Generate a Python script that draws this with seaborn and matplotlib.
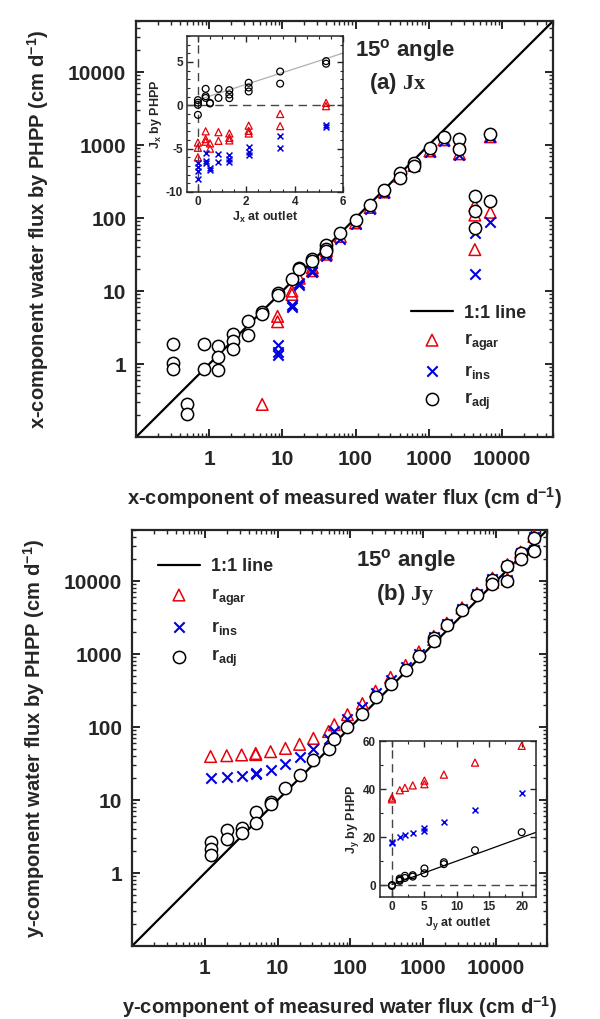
import matplotlib
matplotlib.use("Agg")
import matplotlib.pyplot as plt
import numpy as np
import seaborn as sns
from matplotlib.ticker import FixedLocator, FuncFormatter, LogLocator, MultipleLocator, NullFormatter

# ---- (a) Jx: measured (outlet) flux vs PHPP flux, cm/d ----
JX_ADJ_X = [0, 0, 0, 0, 0.32, 0.32, 0.32, 0.5, 0.5, 0.85, 0.85, 1.3, 1.3, 1.3,
            2.1, 2.1, 2.1, 3.4, 3.4, 5.3, 5.3, 8.6, 8.6, 13.5, 17, 17, 25.7, 25.7,
            40, 40, 40, 62, 100, 158, 246, 400, 400, 630, 630, 1040, 1620,
            2630, 2630, 4270, 4270, 4270, 6950, 6950]
JX_ADJ_Y = [0.6, 0.3, 0.05, -1.1, 1.9, 1.05, 0.85, 0.28, 0.21, 1.9, 0.85, 1.75, 1.25, 0.82,
            2.6, 2.05, 1.6, 3.9, 2.5, 5.1, 4.8, 9.5, 8.9, 14.5, 21, 20, 27.7, 26,
            43, 38, 35, 62, 95, 153, 246, 410, 350, 575, 520, 910, 1300,
            1200, 880, 200, 124, 74, 1410, 170]

JX_AGAR_X = [0, 0, 0, 0.32, 0.32, 0.32, 0.5, 0.5, 0.85, 0.85, 1.3, 1.3, 1.3,
             2.1, 2.1, 2.1, 3.4, 3.4, 5.3, 5.3, 8.6, 8.6, 13.5, 13.5, 17, 25.7, 25.7,
             40, 40, 62, 100, 158, 246, 400, 630, 1040, 1620,
             2630, 2630, 4270, 4270, 4270, 6950, 6950]
JX_AGAR_Y = [-4.3, -4.9, -6.0, -3.0, -3.9, -4.2, -4.4, -5.0, -3.1, -4.1, -3.25, -3.75, -4.05,
             -2.35, -2.95, -3.25, -1.0, -2.4, 0.28, -0.1, 4.5, 3.8, 10, 9, 15, 21, 19,
             36, 32, 56, 86, 140, 228, 375, 525, 830, 1180,
             1100, 760, 150, 110, 37, 1300, 120]

JX_INS_X = [0, 0, 0, 0, 0.32, 0.32, 0.32, 0.5, 0.5, 0.85, 0.85, 1.3, 1.3, 1.3,
            2.1, 2.1, 2.1, 3.4, 3.4, 5.3, 5.3, 8.6, 8.6, 8.6, 13.5, 13.5, 17, 17, 25.7, 25.7,
            40, 40, 62, 100, 158, 246, 400, 630, 1040, 1620,
            2630, 2630, 4270, 4270, 6950, 6950]
JX_INS_Y = [-6.6, -7.1, -7.6, -8.5, -5.5, -6.4, -6.6, -7.2, -7.5, -5.6, -6.5, -5.75, -6.2, -6.55,
            -4.85, -5.4, -5.75, -3.55, -4.9, -2.3, -2.5, 1.8, 1.46, 1.33, 6.5, 6.1, 13, 12, 19, 18,
            33, 30, 52, 82, 135, 220, 360, 510, 800, 1150,
            1050, 740, 62, 17, 1280, 88]

# fitted line in the Jx inset (slope, intercept) and its x span
JX_FIT = (0.9, 0.62)
JX_FIT_SPAN = [0.0, 6.0]

# ---- (b) Jy ----
JY_X = [0, 0, 1.2, 2, 3.2, 5, 5, 8, 12.8, 20, 31, 50, 60, 91, 146, 221, 355, 572, 870,
        1390, 1390, 2100, 3400, 5450, 8900, 8900, 14300, 14300, 21700, 21700, 33000, 33000]
JY_AGAR_Y = [35.7, 36.4, 39.5, 40.5, 41.5, 43.5, 42, 46, 51, 58, 70, 87, 108, 148, 210, 310,
             480, 700, 1070, 1750, 1580, 2650, 4300, 6800, 11000, 9600, 16800, 10600,
             25000, 21000, 41000, 27500]
JY_INS_Y = [17.4, 18, 20.2, 21, 21.5, 23.6, 22.4, 26.2, 31.3, 38.5, 50, 69, 88, 128, 190, 290,
            440, 660, 1010, 1700, 1530, 2550, 4150, 6600, 10700, 9300, 16300, 10300,
            24500, 20500, 40000, 26500]

JY_ADJ_X = [0, 0, 1.2, 1.2, 1.2, 2, 2, 3.2, 3.2, 5, 5, 8, 8, 12.8, 20, 31, 50, 60, 91, 146,
            221, 355, 572, 870, 1390, 1390, 2100, 3400, 5450, 8900, 8900, 14300, 14300,
            21700, 21700, 33000, 33000]
JY_ADJ_Y = [0, -0.4, 2.7, 2.15, 1.75, 3.85, 2.95, 4.1, 3.5, 6.9, 4.9, 9.5, 8.7, 14.5, 22, 35.7,
            50, 69, 100, 153, 260, 390, 605, 940, 1650, 1490, 2470, 4060, 6440, 10500, 9100,
            16000, 10000, 24000, 20000, 39500, 26000]

JY_FIT = (0.98, 0.2)
JY_FIT_SPAN = [0.0, 22.2]

AXIS_RANGE = [0.1, 5e4]
LOG_TICKS = [0.1, 1, 10, 100, 1000, 10000]


def set_plot_style() -> None:
    sns.set_theme(style="ticks")
    plt.rcParams.update({
        "font.family": ["Liberation Sans", "DejaVu Sans"],
        "font.weight": "bold",
        "axes.labelweight": "bold",
        "axes.unicode_minus": False,
        "mathtext.fontset": "custom",
        "mathtext.rm": "Liberation Sans:bold",
        "mathtext.bf": "Liberation Sans:bold",
        "mathtext.it": "Liberation Sans:bold",
        "mathtext.cal": "Liberation Serif:bold",
        "mathtext.default": "bf",
    })


MAIN_STYLE = {
    "agar": dict(marker="^", s=70, facecolor="none", edgecolor="#e8000b", linewidth=1.1),
    "ins": dict(marker="x", s=55, color="#0000e0", linewidth=1.5),
    "adj": dict(marker="o", s=78, facecolor="white", edgecolor="black", linewidth=1.1),
}
INSET_STYLE = {
    "agar": dict(marker="^", s=26, facecolor="none", edgecolor="#e8000b", linewidth=0.9),
    "ins": dict(marker="x", s=18, color="#0000e0", linewidth=1.1),
    "adj": dict(marker="o", s=24, facecolor="none", edgecolor="black", linewidth=0.9),
}
LABELS = {"agar": r"r$_{agar}$", "ins": r"r$_{ins}$", "adj": r"r$_{adj}$"}


def style_main_axes(ax, xlabel, ylabel):
    ax.set_xscale("log")
    ax.set_yscale("log")
    ax.set_xlim(AXIS_RANGE)
    ax.set_ylim(AXIS_RANGE)
    fmt = FuncFormatter(lambda v, p: "" if v < 1 else f"{v:g}")
    for axis in (ax.xaxis, ax.yaxis):
        axis.set_major_locator(FixedLocator(LOG_TICKS))
        axis.set_major_formatter(fmt)
        axis.set_minor_locator(LogLocator(subs=np.arange(2, 10), numticks=20))
        axis.set_minor_formatter(NullFormatter())
    ax.tick_params(which="both", direction="in", top=True, right=True, labelsize=15)
    ax.tick_params(which="major", length=6, width=1.4)
    ax.tick_params(which="minor", length=3, width=1.0)
    ax.tick_params(axis="x", pad=9)
    ax.tick_params(axis="y", pad=7)
    for sp in ax.spines.values():
        sp.set_linewidth(1.6)
    ax.set_xlabel(xlabel, fontsize=14.5, labelpad=12)
    ax.set_ylabel(ylabel, fontsize=14.5, labelpad=12)


def draw_main(ax, series):
    ax.plot(AXIS_RANGE, AXIS_RANGE, color="black", linewidth=1.6, label="1:1 line", zorder=2)
    for key in ("agar", "ins", "adj"):
        x, y = (np.asarray(v, dtype=float) for v in series[key])
        keep = (x > 0) & (y > 0)
        sns.scatterplot(x=x[keep], y=y[keep], ax=ax, label=LABELS[key], zorder=3,
                        **MAIN_STYLE[key])


def draw_inset(ax, series, fit, span, fit_color):
    ax.axhline(0, color="#444444", linewidth=1.0, dashes=(6, 4), zorder=1)
    ax.axvline(0, color="#444444", linewidth=1.0, dashes=(6, 4), zorder=1)
    xs = np.asarray(span)
    ax.plot(xs, fit[0] * xs + fit[1], color=fit_color, linewidth=0.9, zorder=2)
    for key in ("agar", "ins", "adj"):
        x, y = series[key]
        sns.scatterplot(x=x, y=y, ax=ax, zorder=3, **INSET_STYLE[key])
    ax.tick_params(which="both", direction="in", top=True, right=True, labelsize=8.5)
    ax.tick_params(which="major", length=4, width=1.0, pad=3)
    ax.tick_params(which="minor", length=2, width=0.8)
    for sp in ax.spines.values():
        sp.set_linewidth(1.1)
    ax.set_facecolor("white")


def main() -> None:
    set_plot_style()
    fig = plt.figure(figsize=(6, 10.19), dpi=100)

    # ---------------- (a) Jx ----------------
    ax1 = fig.add_axes([0.2267, 0.5711, 0.695, 0.4082])
    style_main_axes(ax1, r"x-component of measured water flux (cm d$^{-1}$)",
                    r"x-component water flux by PHPP (cm d$^{-1}$)")
    jx = {"agar": (JX_AGAR_X, JX_AGAR_Y), "ins": (JX_INS_X, JX_INS_Y),
          "adj": (JX_ADJ_X, JX_ADJ_Y)}
    draw_main(ax1, jx)
    ax1.text(0.645, 0.93, r"15$^{o}$ angle", transform=ax1.transAxes, ha="center",
             va="center", fontsize=16)
    ax1.text(0.628, 0.849, r"(a) $\mathcal{Jx}$", transform=ax1.transAxes, ha="center",
             va="center", fontsize=16)
    h, l = ax1.get_legend_handles_labels()
    ax1.legend(h, l, loc="upper left", bbox_to_anchor=(0.66, 0.318), frameon=False,
               fontsize=13, handlelength=2.3, handletextpad=0.6, labelspacing=0.55,
               borderpad=0, borderaxespad=0)

    in1 = fig.add_axes([0.3117, 0.8116, 0.26, 0.1531])
    draw_inset(in1, jx, JX_FIT, JX_FIT_SPAN, "#b0b0b0")
    in1.set_xlim(-0.45, 6.0)
    in1.set_ylim(-10, 8)
    in1.xaxis.set_major_locator(FixedLocator([0, 2, 4, 6]))
    in1.xaxis.set_minor_locator(MultipleLocator(0.5))
    in1.yaxis.set_major_locator(FixedLocator([-10, -5, 0, 5]))
    in1.yaxis.set_minor_locator(MultipleLocator(1))
    in1.set_xlabel(r"J$_x$ at outlet", fontsize=9, labelpad=1)
    in1.set_ylabel(r"J$_x$ by PHPP", fontsize=9, labelpad=1)

    # ---------------- (b) Jy ----------------
    ax2 = fig.add_axes([0.22, 0.0716, 0.6917, 0.4082])
    style_main_axes(ax2, r"y-component of measured water flux (cm d$^{-1}$)",
                    r"y-component water flux by PHPP (cm d$^{-1}$)")
    jy = {"agar": (JY_X, JY_AGAR_Y), "ins": (JY_X, JY_INS_Y), "adj": (JY_ADJ_X, JY_ADJ_Y)}
    draw_main(ax2, jy)
    ax2.text(0.66, 0.928, r"15$^{o}$ angle", transform=ax2.transAxes, ha="center",
             va="center", fontsize=16)
    ax2.text(0.658, 0.844, r"(b) $\mathcal{Jy}$", transform=ax2.transAxes, ha="center",
             va="center", fontsize=16)
    h, l = ax2.get_legend_handles_labels()
    ax2.legend(h, l, loc="upper left", bbox_to_anchor=(0.063, 0.932), frameon=False,
               fontsize=13, handlelength=2.3, handletextpad=0.6, labelspacing=0.62,
               borderpad=0, borderaxespad=0)

    in2 = fig.add_axes([0.6333, 0.1197, 0.26, 0.1531])
    draw_inset(in2, jy, JY_FIT, JY_FIT_SPAN, "black")
    in2.set_xlim(-1.85, 22.2)
    in2.set_ylim(-5, 60)
    in2.xaxis.set_major_locator(FixedLocator([0, 5, 10, 15, 20]))
    in2.xaxis.set_minor_locator(MultipleLocator(2.5))
    in2.yaxis.set_major_locator(FixedLocator([0, 20, 40, 60]))
    in2.yaxis.set_minor_locator(MultipleLocator(10))
    in2.set_xlabel(r"J$_y$ at outlet", fontsize=9, labelpad=1)
    in2.set_ylabel(r"J$_y$ by PHPP", fontsize=9, labelpad=1)

    fig.savefig("out.png", dpi=100)
    plt.close(fig)


if __name__ == "__main__":
    main()
